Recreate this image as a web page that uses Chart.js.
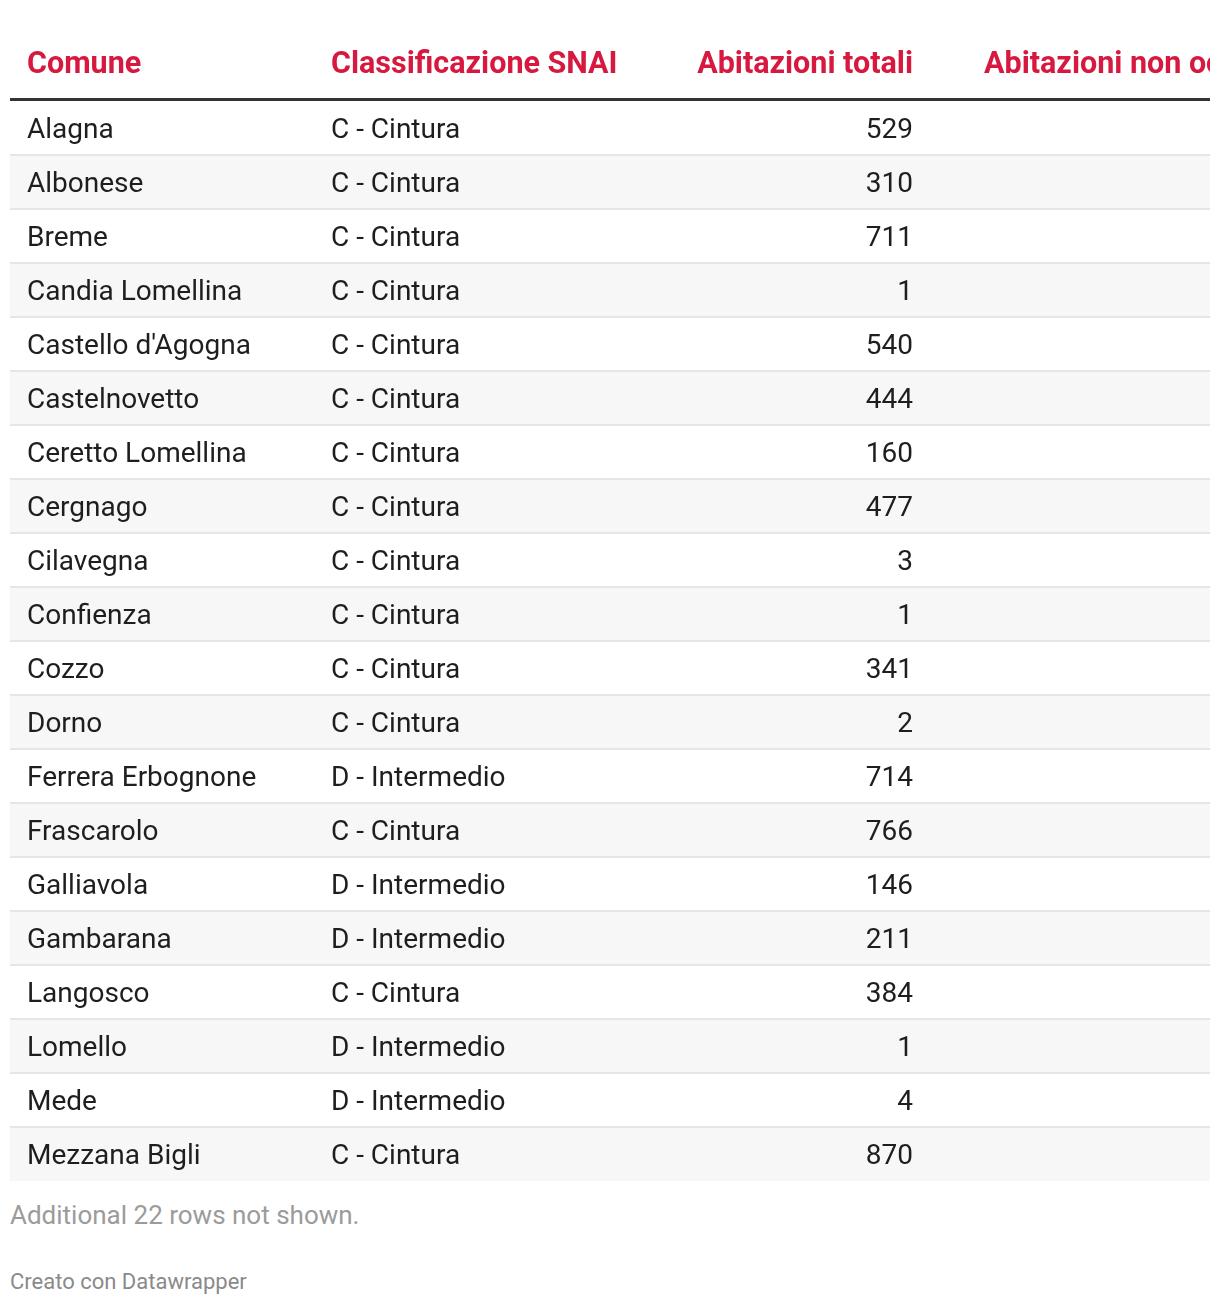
<!DOCTYPE html>
<html><head><meta charset="utf-8">
<script src="https://cdn.jsdelivr.net/npm/chart.js@4/dist/chart.umd.min.js"></script>
<style>
body{margin:0;background:#fff;font-family:Roboto,sans-serif;}
#wrap{position:relative;width:1220px;height:1306px;overflow:hidden}
canvas{position:absolute;left:0;top:0}
.note{position:absolute;left:10px;top:1199px;font-size:26px;line-height:32px;color:#9b9b9b}
.credit{position:absolute;left:10px;top:1268px;font-size:22px;line-height:28px;color:#8a8a8a}
</style></head><body>
<div id="wrap"><canvas id="c" width="1220" height="1190"></canvas>
<div class="note">Additional 22 rows not shown.</div>
<div class="credit">Creato con Datawrapper</div></div>
<script>
const headers = ["Comune", "Classificazione SNAI", "Abitazioni totali", "Abitazioni non occupate"];
const comuni = ["Alagna", "Albonese", "Breme", "Candia Lomellina", "Castello d'Agogna", "Castelnovetto",
  "Ceretto Lomellina", "Cergnago", "Cilavegna", "Confienza", "Cozzo", "Dorno", "Ferrera Erbognone",
  "Frascarolo", "Galliavola", "Gambarana", "Langosco", "Lomello", "Mede", "Mezzana Bigli"];
const classificazione = ["C - Cintura", "C - Cintura", "C - Cintura", "C - Cintura", "C - Cintura", "C - Cintura",
  "C - Cintura", "C - Cintura", "C - Cintura", "C - Cintura", "C - Cintura", "C - Cintura", "D - Intermedio",
  "C - Cintura", "D - Intermedio", "D - Intermedio", "C - Cintura", "D - Intermedio", "D - Intermedio", "C - Cintura"];
const abitazioniTotali = [529, 310, 711, 1, 540, 444, 160, 477, 3, 1, 341, 2, 714, 766, 146, 211, 384, 1, 4, 870];

const tablePlugin = {
  id: 'tableDraw',
  beforeDatasetsDraw(chart) {
    const ctx = chart.ctx, y = chart.scales.y, x = chart.scales.x, area = chart.chartArea;
    const half = (y.getPixelForValue(1) - y.getPixelForValue(0)) / 2;
    ctx.save();
    ctx.beginPath();
    ctx.rect(area.left, 0, area.right - area.left, chart.height);
    ctx.clip();
    chart.data.labels.forEach((lab, i) => {
      const c = y.getPixelForValue(i);
      if (i % 2 === 1) {
        ctx.fillStyle = '#f7f7f7';
        ctx.fillRect(area.left, c - half, area.right - area.left, half * 2);
      }
      if (i > 0) {
        ctx.fillStyle = '#e6e6e6';
        ctx.fillRect(area.left, c - half - 1, area.right - area.left, 2);
      }
    });
    ctx.fillStyle = '#333333';
    ctx.fillRect(area.left, area.top - 3, area.right - area.left, 3);
    ctx.fillStyle = '#d7193f';
    ctx.font = 'bold 30.5px Roboto';
    ctx.textBaseline = 'middle';
    const hy = 65;
    ctx.textAlign = 'left';
    ctx.fillText(headers[0], x.getPixelForValue(17), hy);
    ctx.fillText(headers[1], x.getPixelForValue(321), hy);
    ctx.textAlign = 'right';
    ctx.fillText(headers[2], x.getPixelForValue(903), hy);
    ctx.textAlign = 'left';
    ctx.fillText(headers[3], x.getPixelForValue(974), hy);
    ctx.fillStyle = '#1e1e1e';
    ctx.font = '28px Roboto';
    const vals = chart.data.datasets[0].data;
    chart.data.labels.forEach((lab, i) => {
      const c = y.getPixelForValue(i) + 2.5;
      ctx.textAlign = 'left';
      ctx.fillText(lab, x.getPixelForValue(17), c);
      ctx.fillText(classificazione[i], x.getPixelForValue(321), c);
      ctx.textAlign = 'right';
      ctx.fillText(String(vals[i]), x.getPixelForValue(903), c);
    });
    ctx.restore();
  }
};

new Chart(document.getElementById('c'), {
  type: 'bar',
  data: {
    labels: comuni,
    datasets: [{
      label: headers[2],
      data: abitazioniTotali,
      backgroundColor: 'rgba(0,0,0,0)',
      borderWidth: 0
    }]
  },
  options: {
    indexAxis: 'y',
    responsive: false,
    devicePixelRatio: 1,
    animation: false,
    layout: { padding: { left: 10, right: 10, top: 101, bottom: 9 } },
    scales: {
      x: { type: 'linear', min: 0, max: 1200, display: false },
      y: { type: 'category', display: false, offset: true }
    },
    plugins: { legend: { display: false }, tooltip: { enabled: false } }
  },
  plugins: [tablePlugin]
});
</script>
</body></html>
